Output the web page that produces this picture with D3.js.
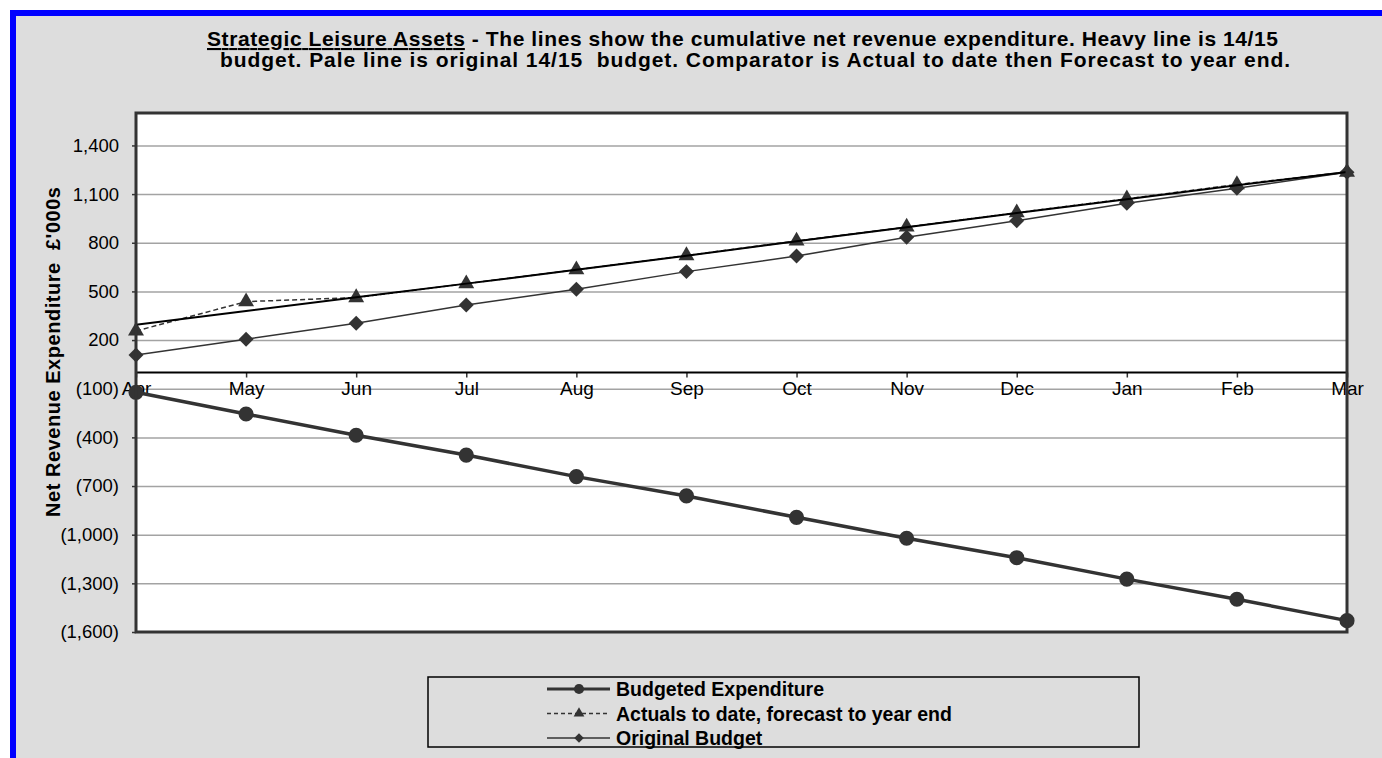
<!DOCTYPE html>
<html>
<head>
<meta charset="utf-8">
<script src="https://cdn.jsdelivr.net/npm/d3@7"></script>
<style>
	body { margin: 0; background: #fff; }
	text { font-family: "Liberation Sans", Arial, sans-serif; fill: #000; }
	.axisY path, .axisX path { display: none; }
	.axisY line, .axisX line { stroke: #333; stroke-width: 1.5; }
	.grid line { stroke: #a3a3a3; stroke-width: 1.5; }
	.grid path { display: none; }
</style>
</head>
<body>
<div id="root"></div>
<script>
const months = ['Apr', 'May', 'Jun', 'Jul', 'Aug', 'Sep', 'Oct', 'Nov', 'Dec', 'Jan', 'Feb', 'Mar']

const budgetedExpenditure = [-122, -256, -387, -509, -642, -761, -893, -1022, -1142, -1274, -1398, -1530]
const actualsForecast = [256, 437, 462, 548, 634, 721, 811, 897, 985, 1071, 1159, 1236]
const originalBudget = [108, 205, 303, 416, 513, 622, 718, 834, 936, 1043, 1136, 1234]
const budget1415 = [295, 379, 464, 548, 633, 720, 809, 895, 983, 1068, 1154, 1236]

const yTicks = [-1600, -1300, -1000, -700, -400, -100, 200, 500, 800, 1100, 1400]

const titleLine1 = ['Strategic Leisure Assets', ' - The lines show the cumulative net revenue expenditure. Heavy line is 14/15']
const titleLine2 = 'budget. Pale line is original 14/15  budget. Comparator is Actual to date then Forecast to year end.'
const yTitle = "Net Revenue Expenditure  £'000s"
const legendNames = ['Budgeted Expenditure', 'Actuals to date, forecast to year end', 'Original Budget']

const C = {
	width: 1382,
	height: 758,
	plot: { left: 136, right: 1347, top: 113, bottom: 632 },
	ink: '#333'
}

const svg = d3.select('#root').append('svg')
	.attr('width', C.width)
	.attr('height', C.height)

// -- background & frame --
svg.append('rect').attr('x', 10).attr('y', 10).attr('width', C.width - 10).attr('height', C.height - 10).attr('fill', '#0000ff')
svg.append('rect').attr('x', 16).attr('y', 16).attr('width', C.width - 16).attr('height', C.height - 16).attr('fill', '#dddddd')

const P = C.plot
svg.append('rect')
	.attr('x', P.left).attr('y', P.top)
	.attr('width', P.right - P.left).attr('height', P.bottom - P.top)
	.attr('fill', '#fff')

const xScale = d3.scalePoint()
	.domain(months)
	.range([P.left, P.right])

const yScale = d3.scaleLinear()
	.domain([-1600, 1600])
	.range([P.bottom, P.top])

const fmt = v => v < 0 ? '(' + d3.format(',')(-v) + ')' : d3.format(',')(v)

// -- grid --
svg.append('g')
	.attr('class', 'grid')
	.attr('transform', `translate(${P.left},0)`)
	.call(d3.axisLeft(yScale).tickValues(yTicks.filter(t => t > -1600)).tickSize(-(P.right - P.left)).tickFormat(''))

// -- axis --
svg.append('g')
	.attr('class', 'axisY')
	.attr('transform', `translate(${P.left},0)`)
	.call(d3.axisLeft(yScale).tickValues(yTicks).tickSize(4).tickPadding(13).tickFormat(fmt))
	.selectAll('text').style('font-size', '18.5px')

svg.append('g')
	.attr('class', 'axisX')
	.attr('transform', `translate(0,${yScale(0)})`)
	.call(d3.axisBottom(xScale).tickSize(5).tickPadding(4))
	.call(g => g.selectAll('text').style('font-size', '19px'))

svg.append('line')
	.attr('x1', P.left).attr('x2', P.right)
	.attr('y1', yScale(0)).attr('y2', yScale(0))
	.attr('stroke', '#000').attr('stroke-width', 2)

// -- lines --
const line = d3.line()
	.x((d, i) => xScale(months[i]))
	.y(d => yScale(d))

const series = [
	{ values: originalBudget, width: 1.5, dash: null, color: C.ink, symbol: 'diamond', size: 112 },
	{ values: actualsForecast, width: 1.5, dash: '5,3', color: C.ink, symbol: 'triangle', size: 110 },
	{ values: budget1415, width: 2, dash: null, color: '#000', symbol: null },
	{ values: budgetedExpenditure, width: 3.5, dash: null, color: C.ink, symbol: 'circle', size: 180 }
]

function symbolPath(type, size) {
	if (type === 'circle') return d3.symbol(d3.symbolCircle, size)()
	if (type === 'triangle') return d3.symbol(d3.symbolTriangle, size)()
	return d3.symbol(d3.symbolSquare, size)()
}

series.forEach(s => {
	svg.append('path')
		.datum(s.values)
		.attr('d', line)
		.attr('fill', 'none')
		.attr('stroke', s.color)
		.attr('stroke-width', s.width)
		.attr('stroke-dasharray', s.dash)

	if (s.symbol) {
		svg.selectAll(null)
			.data(s.values)
			.enter()
			.append('path')
			.attr('d', symbolPath(s.symbol, s.size))
			.attr('transform', (d, i) => `translate(${xScale(months[i])},${yScale(d)})` + (s.symbol === 'diamond' ? ' rotate(45)' : ''))
			.attr('fill', C.ink)
	}
})

// plot frame
svg.append('rect')
	.attr('x', P.left).attr('y', P.top)
	.attr('width', P.right - P.left).attr('height', P.bottom - P.top)
	.attr('fill', 'none')
	.attr('stroke', C.ink)
	.attr('stroke-width', 3)

// -- titles --
const t1 = svg.append('text')
	.attr('x', 207).attr('y', 46)
	.attr('textLength', 1071)
	.style('font-size', '21px').style('font-weight', 'bold')
t1.append('tspan').text(titleLine1[0]).style('text-decoration', 'underline')
t1.append('tspan').text(titleLine1[1])

svg.append('text')
	.attr('x', 220).attr('y', 67)
	.attr('textLength', 1070)
	.style('font-size', '21px').style('font-weight', 'bold')
	.style('white-space', 'pre')
	.text(titleLine2)

svg.append('text')
	.attr('transform', 'translate(60,352) rotate(-90)')
	.attr('text-anchor', 'middle')
	.attr('textLength', 330)
	.style('font-size', '20px').style('font-weight', 'bold')
	.style('white-space', 'pre')
	.text(yTitle)

// -- legend --
const legend = svg.append('g')
svg.append('rect')
	.attr('x', 428).attr('y', 677).attr('width', 711).attr('height', 70)
	.attr('fill', 'none').attr('stroke', '#000').attr('stroke-width', 1.5)

const legendItems = [
	{ name: legendNames[0], width: 3, dash: null, symbol: 'circle', size: 80 },
	{ name: legendNames[1], width: 1.5, dash: '4,3', symbol: 'triangle', size: 50 },
	{ name: legendNames[2], width: 1.5, dash: null, symbol: 'diamond', size: 45 }
]

legendItems.forEach((d, i) => {
	const cy = 689 + i * 24.5
	legend.append('line')
		.attr('x1', 547).attr('x2', 610)
		.attr('y1', cy).attr('y2', cy)
		.attr('stroke', C.ink).attr('stroke-width', d.width)
		.attr('stroke-dasharray', d.dash)
	legend.append('path')
		.attr('d', symbolPath(d.symbol, d.size))
		.attr('transform', `translate(579,${cy})` + (d.symbol === 'diamond' ? ' rotate(45)' : ''))
		.attr('fill', C.ink)
	legend.append('text')
		.attr('x', 616).attr('y', cy + 7)
		.style('font-size', '19.5px').style('font-weight', 'bold')
		.text(d.name)
})
</script>
</body>
</html>
